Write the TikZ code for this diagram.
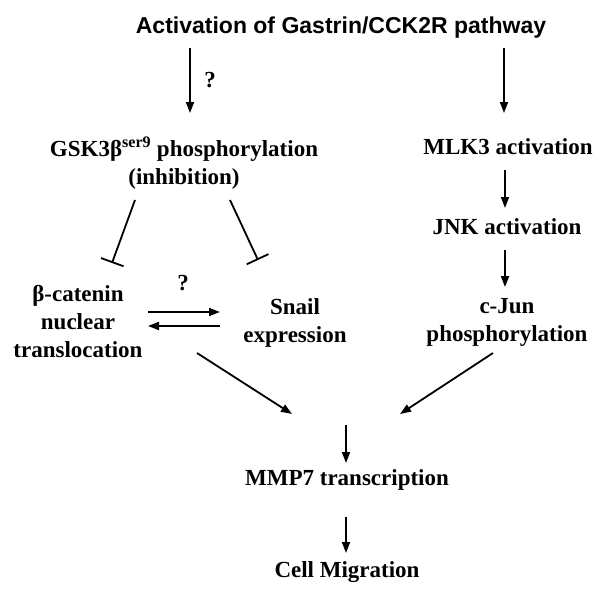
\documentclass[tikz,border=0pt]{standalone}
\usepackage{fontspec}
\setmainfont{Liberation Serif}
\newfontfamily\sansb{Liberation Sans}
\usetikzlibrary{arrows.meta,calc}
\tikzset{
  lbl/.style={font=\fontsize{23}{28}\selectfont\bfseries, align=center, inner sep=0pt},
  ttl/.style={font=\sansb\fontsize{23}{28}\selectfont\bfseries, inner sep=0pt},
  arr/.style={line width=1.8pt, -{Stealth[length=11pt,width=8pt,inset=0pt]}},
  inh/.style={line width=1.8pt, -{Bar[width=24pt,line width=1.8pt]}}
}
\begin{document}
\begin{tikzpicture}[x=1pt,y=-1pt]
\useasboundingbox[fill=white] (0,0) rectangle (600,597);
\node[ttl] (title) at (341,28) {Activation of Gastrin/CCK2R pathway};
\node[lbl] (gsk) at (184,163) {GSK3β\textsuperscript{ser9} phosphorylation\\(inhibition)};
\node[lbl] (mlk) at (508,147) {MLK3 activation};
\node[lbl] (jnk) at (507,227) {JNK activation};
\node[lbl] (cjun) at (507,322) {c-Jun\\phosphorylation};
\node[lbl] (bcat) at (78,322) {β-catenin\\nuclear\\translocation};
\node[lbl] (snail) at (295,323) {Snail\\expression};
\node[lbl] (mmp) at (347,480) {MMP7 transcription};
\node[lbl] (cell) at (347,572) {Cell Migration};
\node[lbl] (q1) at (210,80) {?};
\node[lbl] (q2) at (183,283) {?};
\draw[arr] ($(gsk)+(6,-115)$) -- ($(gsk)+(6,-50)$);
\draw[arr] ($(mlk)+(-4,-99)$) -- ($(mlk)+(-4,-34)$);
\draw[inh] ($(gsk)+(-49,37)$) -- ($(gsk)+(-72,100)$);
\draw[inh] ($(gsk)+(46,37)$) -- ($(gsk)+(74,97)$);
\draw[arr] ($(bcat)+(70,-10)$) -- ($(snail)+(-75,-11)$);
\draw[arr] ($(snail)+(-75,3)$) -- ($(bcat)+(70,4)$);
\draw[arr] ($(mlk)+(-3,23)$) -- ($(jnk)+(-2,-19)$);
\draw[arr] ($(jnk)+(-2,23)$) -- ($(cjun)+(-2,-35)$);
\draw[arr] ($(bcat)+(119,31)$) -- ($(mmp)+(-55,-66)$);
\draw[arr] ($(cjun)+(-14,31)$) -- ($(mmp)+(53,-66)$);
\draw[arr] ($(mmp)+(-1,-55)$) -- ($(mmp)+(-1,-17)$);
\draw[arr] ($(mmp)+(-1,37)$) -- ($(cell)+(-1,-19)$);
\end{tikzpicture}
\end{document}
